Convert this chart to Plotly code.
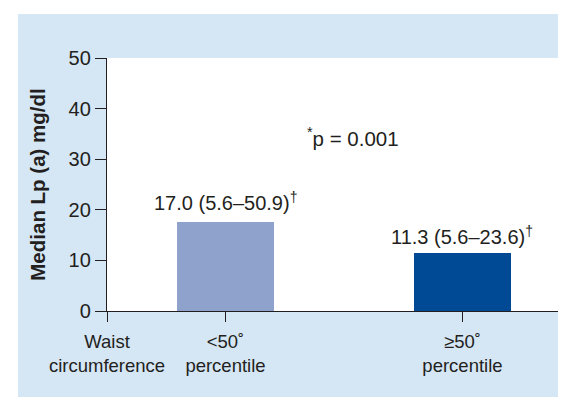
import plotly.graph_objects as go

# ---- data ----
categories = ["<50˚<br>percentile", "≥50˚<br>percentile"]
median_values = [17.5, 11.5]
bar_labels = ["17.0 (5.6–50.9)<sup>†</sup>", "11.3 (5.6–23.6)<sup>†</sup>"]
group_label = "Waist<br>circumference"
y_ticks = [0, 10, 20, 30, 40, 50]
p_text = "<sup>*</sup>p = 0.001"
y_title = "Median Lp (a) mg/dl"
bar_colors = ["#8fa2cb", "#004a95"]

# ---- layout helpers ----
FONT = "Liberation Sans, Arial, Helvetica, sans-serif"
TXT = "#231f20"
positions = [1 + 2 * i for i in range(len(categories))]
x_max = 3.857
label_lift = [21, 17]  # px above bar tops (label centres)

fig = go.Figure()
fig.add_trace(go.Bar(
    x=positions, y=median_values, width=0.82,
    marker=dict(color=bar_colors, line=dict(width=0)),
    showlegend=False, hoverinfo="skip",
))

for xp, val, lab, lift in zip(positions, median_values, bar_labels, label_lift):
    fig.add_annotation(x=xp, y=val, text=lab, showarrow=False,
                       xanchor="center", yanchor="middle", yshift=lift,
                       font=dict(family=FONT, size=20, color=TXT))

fig.add_annotation(x=2.08, y=34.4, text=p_text, showarrow=False,
                   xanchor="center", yanchor="middle",
                   font=dict(family=FONT, size=20.5, color=TXT))

fig.update_xaxes(
    range=[0, x_max],
    tickmode="array",
    tickvals=[0] + positions + [x_max],
    ticktext=[group_label] + categories + [""],
    ticks="outside", ticklen=10, tickwidth=1.3, tickcolor=TXT,
    ticklabelstandoff=4,
    showline=True, linecolor=TXT, linewidth=1.3,
    showgrid=False, zeroline=False,
    tickfont=dict(family=FONT, size=18.5, color=TXT),
    fixedrange=True,
)
fig.update_yaxes(
    range=[0, 50],
    tickmode="array", tickvals=y_ticks,
    ticks="outside", ticklen=11, tickwidth=1.3, tickcolor=TXT,
    showline=True, linecolor=TXT, linewidth=1.3,
    showgrid=False, zeroline=False,
    tickfont=dict(family=FONT, size=20, color=TXT),
    title=dict(text="<b>" + y_title + "</b>", standoff=17,
               font=dict(family=FONT, size=20.5, color=TXT)),
    fixedrange=True,
)

fig.update_layout(
    width=566, height=397,
    margin=dict(l=99, r=10, t=50, b=94, autoexpand=False),
    paper_bgcolor="#d5e6f5",
    plot_bgcolor="#ffffff",
    bargap=0,
)

# white strips at top and left of the page (outside the blue panel)
fig.add_shape(type="rect", xref="paper", yref="paper",
              x0=-99 / 457, x1=(-99 + 10) / 457, y0=-94 / 253, y1=(253 + 50) / 253,
              fillcolor="#ffffff", line=dict(width=0), layer="above")
fig.add_shape(type="rect", xref="paper", yref="paper",
              x0=-99 / 457, x1=(566 - 99) / 457, y0=(253 + 44) / 253, y1=(253 + 50) / 253,
              fillcolor="#ffffff", line=dict(width=0), layer="above")

fig.write_html("out.html")
